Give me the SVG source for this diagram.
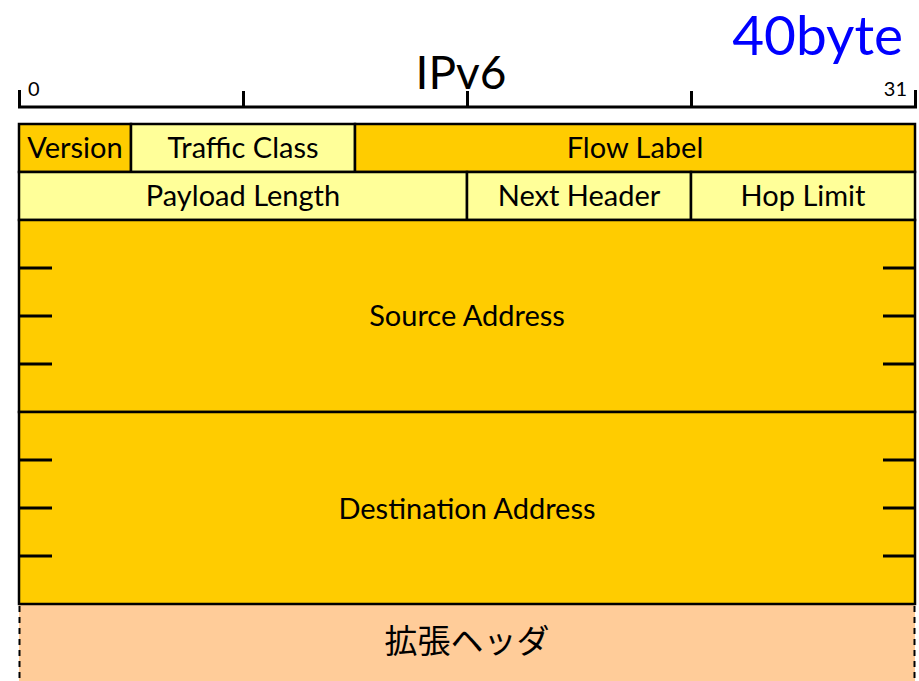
<svg xmlns="http://www.w3.org/2000/svg" width="919" height="681" viewBox="0 0 919 681">
<style>
.o{fill:#FFCC00;stroke:#000;stroke-width:2.5}
.y{fill:#FFFF99;stroke:#000;stroke-width:2.5}
.t{font-family:Lato,"Open Sans",sans-serif;font-size:29px;fill:#000;text-anchor:middle}
.tk{stroke:#000;stroke-width:3;fill:none}
.s{font-family:Lato,"Open Sans",sans-serif;font-size:20px;fill:#000}
</style>
<rect width="919" height="681" fill="#fff"/>
<g id="title">
<text x="461" y="89" font-family="Lato,'Open Sans',sans-serif" font-size="46" text-anchor="middle">IPv6</text>
<text x="903" y="55" font-family="Lato,'Open Sans',sans-serif" font-size="55" fill="#0000FF" text-anchor="end">40byte</text>
</g>
<g id="ruler">
<path class="tk" d="M19.5 90 V107 H915.5 V90 M243.5 91 V107 M467.5 91 V107 M691.5 91 V107"/>
<text class="s" x="28" y="96">0</text>
<text class="s" x="907" y="96" text-anchor="end">31</text>
</g>
<g id="extension">
<rect x="19" y="604" width="896" height="80" fill="#FFCC99"/>
<path d="M19.5 606 V681 M914.5 606 V681" stroke="#000" stroke-width="2" stroke-dasharray="6,5"/>
<text x="467" y="653" font-family="'Noto Sans CJK JP',sans-serif" font-size="33" text-anchor="middle">拡張ヘッダ</text>
</g>
<g id="version"><rect class="o" x="19" y="124" width="112" height="48"/><text class="t" x="75" y="158">Version</text></g>
<g id="traffic-class"><rect class="y" x="131" y="124" width="224" height="48"/><text class="t" x="243" y="158">Traffic Class</text></g>
<g id="flow-label"><rect class="o" x="355" y="124" width="560" height="48"/><text class="t" x="635" y="158">Flow Label</text></g>
<g id="payload-length"><rect class="y" x="19" y="172" width="448" height="48"/><text class="t" x="243" y="206">Payload Length</text></g>
<g id="next-header"><rect class="y" x="467" y="172" width="224" height="48"/><text class="t" x="579" y="206">Next Header</text></g>
<g id="hop-limit"><rect class="y" x="691" y="172" width="224" height="48"/><text class="t" x="803" y="206">Hop Limit</text></g>
<g id="source-address"><rect class="o" x="19" y="220" width="896" height="192"/>
<path class="tk" d="M19 268 H52 M19 316 H52 M19 364 H52 M883 268 H915 M883 316 H915 M883 364 H915"/>
<text class="t" x="467" y="326">Source Address</text></g>
<g id="destination-address"><rect class="o" x="19" y="412" width="896" height="192"/>
<path class="tk" d="M19 460 H52 M19 508 H52 M19 556 H52 M883 460 H915 M883 508 H915 M883 556 H915"/>
<text class="t" x="467" y="519">Destination Address</text></g>
</svg>
